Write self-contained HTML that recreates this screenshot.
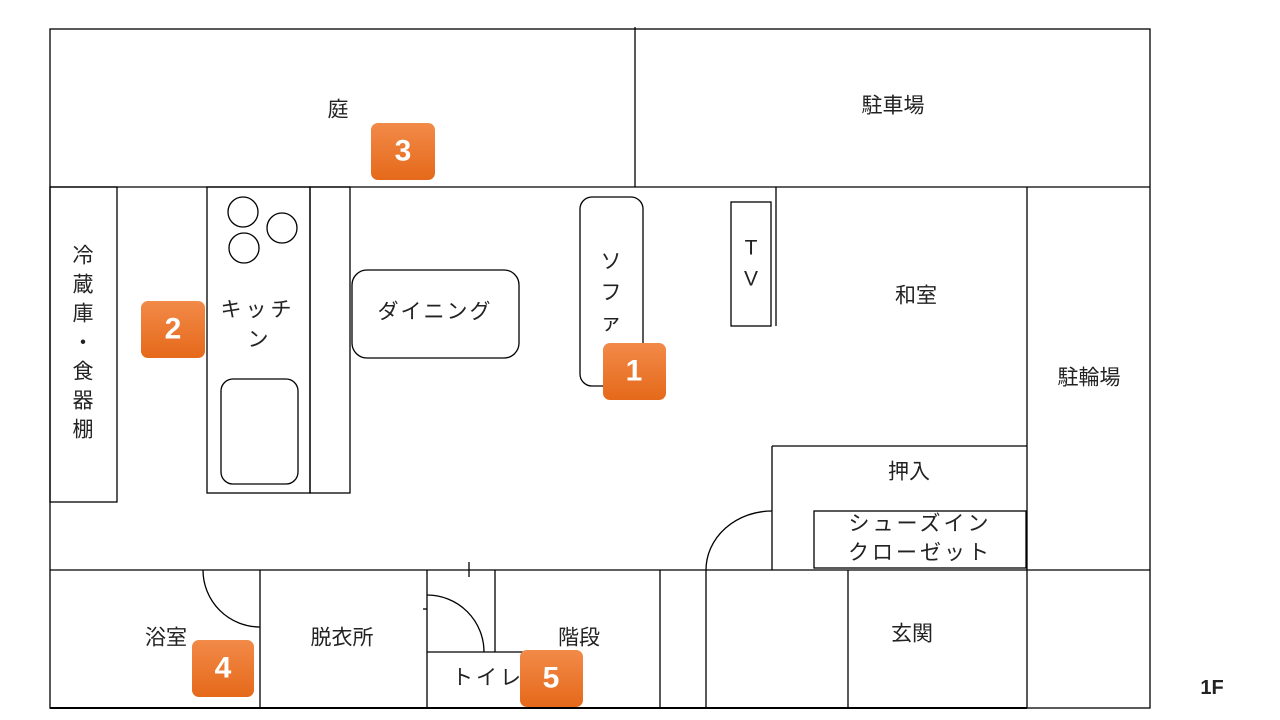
<!DOCTYPE html>
<html><head><meta charset="utf-8"><style>
html,body{margin:0;padding:0;background:#fff;}
svg{display:block}
text{font-family:"Liberation Sans","Noto Sans CJK JP",sans-serif;font-size:21px;fill:#222;text-anchor:middle;dominant-baseline:central;}
.b{font-size:30px;fill:#fff;font-weight:bold;font-family:"Liberation Sans",sans-serif;}
</style></head><body>
<svg width="1280" height="720" viewBox="0 0 1280 720" xmlns="http://www.w3.org/2000/svg">
<defs><linearGradient id="g" x1="0" y1="0" x2="0" y2="1"><stop offset="0" stop-color="#f28a48"/><stop offset="1" stop-color="#e5691a"/></linearGradient></defs>
<g fill="none" stroke="#000" stroke-width="1.3">
<rect x="50" y="29" width="1100" height="679"/>
<line x1="635" y1="27" x2="635" y2="187"/>
<line x1="50" y1="187" x2="1150" y2="187"/>
<rect x="50" y="187" width="67" height="315"/>
<rect x="207" y="187" width="103" height="306"/>
<rect x="310" y="187" width="40" height="306"/>
<circle cx="243" cy="212" r="15"/><circle cx="282" cy="228" r="15"/><circle cx="244" cy="248" r="15"/>
<rect x="221" y="379" width="77" height="105" rx="12"/>
<rect x="352" y="270" width="167" height="88" rx="15"/>
<rect x="580" y="197" width="63" height="189" rx="12"/>
<rect x="731" y="202" width="40" height="124"/>
<line x1="776" y1="187" x2="776" y2="326"/>
<line x1="1027" y1="187" x2="1027" y2="708"/>
<line x1="772" y1="446" x2="1027" y2="446"/>
<line x1="772" y1="446" x2="772" y2="570"/>
<rect x="814" y="511" width="212" height="57"/>
<path d="M706,570 A66,59 0 0 1 772,511"/>
<line x1="50" y1="570" x2="1150" y2="570"/>
<line x1="260" y1="570" x2="260" y2="708"/>
<line x1="427" y1="570" x2="427" y2="708"/>
<line x1="495" y1="570" x2="495" y2="652"/>
<line x1="660" y1="570" x2="660" y2="708"/>
<line x1="706" y1="570" x2="706" y2="708"/>
<line x1="848" y1="570" x2="848" y2="708"/>
<path d="M203,570 A57,57 0 0 0 260,627"/>
<line x1="427" y1="652" x2="531" y2="652"/>
<path d="M427,595 A57,57 0 0 1 484,652"/>
<line x1="469" y1="562" x2="469" y2="577"/>
<line x1="423" y1="609" x2="427" y2="609"/>
<line x1="50" y1="708" x2="1027" y2="708" stroke-width="2"/>
</g>
<text x="338" y="110">庭</text>
<text x="893" y="106">駐車場</text>
<text x="916" y="296">和室</text>
<text x="1089" y="378">駐輪場</text>
<text x="909" y="472">押入</text>
<text x="920" y="524" letter-spacing="3">シューズイン</text>
<text x="920" y="553" letter-spacing="3">クローゼット</text>
<text x="912" y="634">玄関</text>
<text x="166" y="638">浴室</text>
<text x="342" y="638">脱衣所</text>
<text x="579" y="638">階段</text>
<text x="488" y="678" letter-spacing="3">トイレ</text>
<text x="435" y="312" letter-spacing="2">ダイニング</text>
<text x="258" y="310" letter-spacing="4">キッチ</text>
<text x="258" y="340">ン</text>
<text x="611" y="262">ソ</text><text x="611" y="293">フ</text><text x="611" y="323" font-size="17">ァ</text>
<text x="751" y="248">T</text><text x="751" y="279">V</text>
<text x="83" y="256">冷</text><text x="83" y="285">蔵</text><text x="83" y="314">庫</text><text x="83" y="343">・</text><text x="83" y="372">食</text><text x="83" y="401">器</text><text x="83" y="430">棚</text>
<text x="1212" y="688" style="font-weight:bold;font-size:20px">1F</text>
<rect x="371" y="123" width="64" height="57" rx="7" fill="url(#g)"/><text class="b" x="403" y="151">3</text>
<rect x="141" y="301" width="64" height="57" rx="7" fill="url(#g)"/><text class="b" x="173" y="329">2</text>
<rect x="603" y="343" width="63" height="57" rx="7" fill="url(#g)"/><text class="b" x="634" y="371">1</text>
<rect x="192" y="640" width="62" height="57" rx="7" fill="url(#g)"/><text class="b" x="223" y="668">4</text>
<rect x="520" y="650" width="63" height="57" rx="7" fill="url(#g)"/><text class="b" x="551" y="678">5</text>
</svg>
</body></html>
